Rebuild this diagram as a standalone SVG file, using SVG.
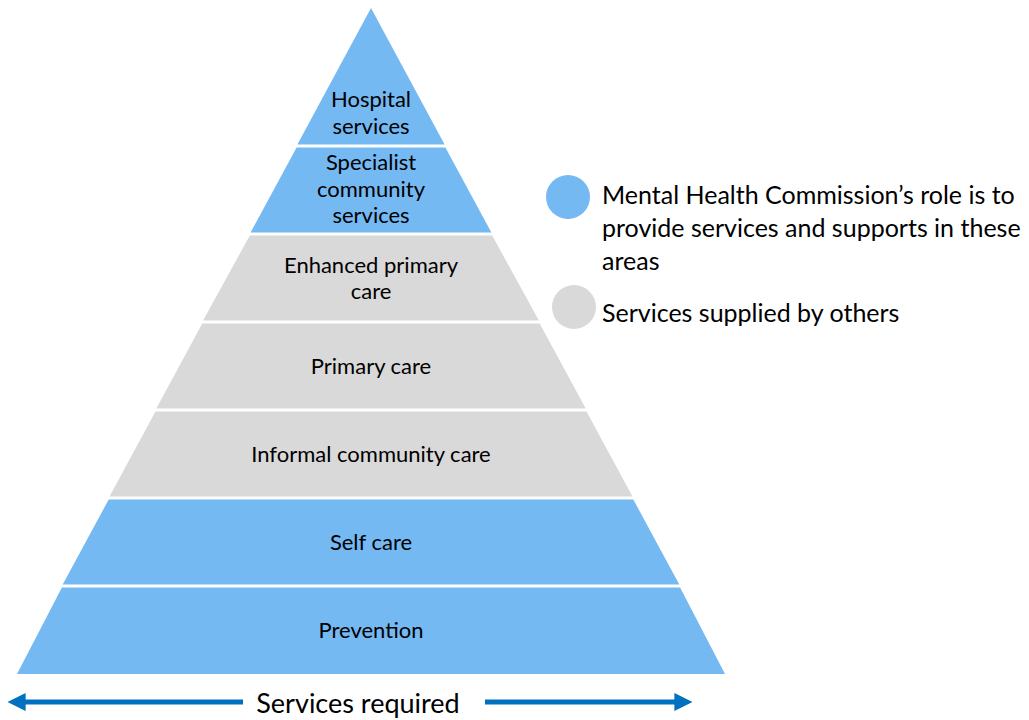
<svg xmlns="http://www.w3.org/2000/svg" width="1029" height="720" viewBox="0 0 1029 720">
<defs>
<style>
.blue{fill:#75B9F3}
.gray{fill:#D9D9D9}
.lbl{font-family:Lato,"Open Sans",sans-serif;font-size:22px;fill:#000;text-anchor:middle}
.leg{font-family:Lato,"Open Sans",sans-serif;font-size:25px;fill:#000}
.arr{stroke:#0070C0;stroke-width:5;fill:none}
</style>
<marker id="ah" viewBox="0 0 10 10" refX="2" refY="5" markerWidth="3.6" markerHeight="3.6" orient="auto-start-reverse" markerUnits="strokeWidth">
<path d="M0,0 L10,5 L0,10 z" fill="#0070C0"/>
</marker>
</defs>
<rect width="1029" height="720" fill="#fff"/>
<g id="hospital">
<polygon class="blue" points="371,8 444.6,144.5 297.4,144.5"/>
<text class="lbl" x="371" y="107">Hospital</text>
<text class="lbl" x="371" y="134">services</text>
</g>
<g id="specialist">
<polygon class="blue" points="296.6,147.5 445.4,147.5 491.4,232.5 250.6,232.5"/>
<text class="lbl" x="371" y="170">Specialist</text>
<text class="lbl" x="371" y="197">community</text>
<text class="lbl" x="371" y="223">services</text>
</g>
<g id="enhanced">
<polygon class="gray" points="249.8,235.5 492.2,235.5 538.9,320.5 203.1,320.5"/>
<text class="lbl" x="371" y="273">Enhanced primary</text>
<text class="lbl" x="371" y="299">care</text>
</g>
<g id="primary">
<polygon class="gray" points="202.3,323.5 539.7,323.5 585.7,408.5 156.3,408.5"/>
<text class="lbl" x="371" y="374">Primary care</text>
</g>
<g id="informal">
<polygon class="gray" points="155.5,411.5 586.5,411.5 632.5,496.5 109.5,496.5"/>
<text class="lbl" x="371" y="462">Informal community care</text>
</g>
<g id="selfcare">
<polygon class="blue" points="108.7,499.5 633.3,499.5 679.3,584.5 62.7,584.5"/>
<text class="lbl" x="371" y="550">Self care</text>
</g>
<g id="prevention">
<polygon class="blue" points="61.9,587.5 680.1,587.5 725,674 17,674"/>
<text class="lbl" x="371" y="638">Prevention</text>
</g>
<g id="legend-msc">
<circle class="blue" cx="568" cy="197" r="22"/>
<text class="leg" x="602" y="204">Mental Health Commission’s role is to</text>
<text class="leg" x="602" y="237">provide services and supports in these</text>
<text class="leg" x="602" y="270">areas</text>
</g>
<g id="legend-others">
<circle class="gray" cx="574" cy="307" r="22"/>
<text class="leg" x="602" y="322">Services supplied by others</text>
</g>
<g id="axis-label">
<text class="leg" x="358" y="713" text-anchor="middle" style="font-size:27px">Services required</text>
</g>
<g id="connectors">
<line class="arr" x1="243" y1="702" x2="22" y2="702" marker-end="url(#ah)"/>
<line class="arr" x1="485" y1="702" x2="678" y2="702" marker-end="url(#ah)"/>
</g>
</svg>
